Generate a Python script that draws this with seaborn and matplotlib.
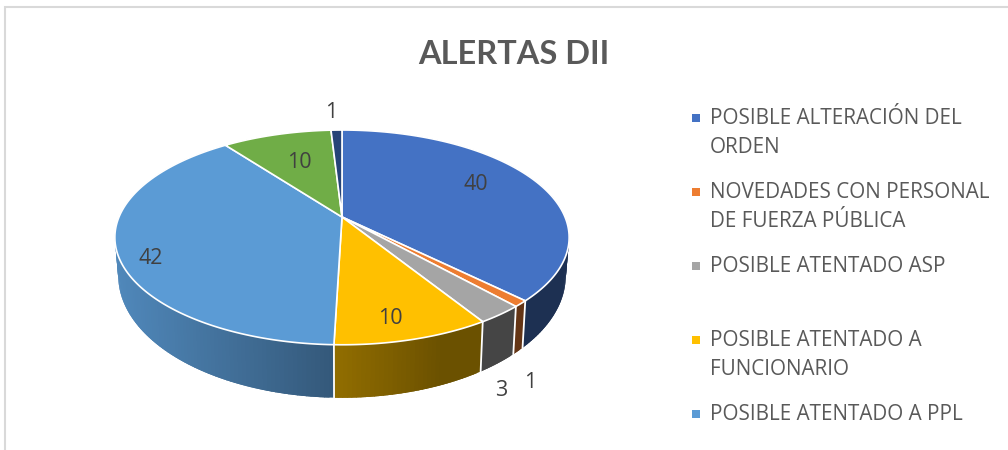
import numpy as np
import pandas as pd
import seaborn as sns
import matplotlib
matplotlib.use("Agg")
import matplotlib.pyplot as plt
from matplotlib.colors import to_rgb

# ---- data ----
VALUES = [40, 1, 3, 10, 42, 10, 1]
COLORS = ["#4472C4", "#ED7D31", "#A5A5A5", "#FFC000", "#5B9BD5", "#70AD47", "#264478"]
LEGEND_LABELS = [
    "POSIBLE ALTERACIÓN DEL\nORDEN",
    "NOVEDADES CON PERSONAL\nDE FUERZA PÚBLICA",
    "POSIBLE ATENTADO ASP",
    "POSIBLE ATENTADO A\nFUNCIONARIO",
    "POSIBLE ATENTADO A PPL",
]
TITLE = "ALERTAS DII"

sns.set_theme(style="white")
palette = sns.color_palette(COLORS)

fig = plt.figure(figsize=(10.08, 4.5), dpi=100)
ax = fig.add_axes([0, 0, 1, 1])
ax.set_xlim(0, 1008)
ax.set_ylim(450, 0)
ax.axis("off")

# frame of the chart area
ax.plot([5, 5, 1008], [450, 7, 7], color="#D9D9D9", lw=1.5, solid_joinstyle="miter", zorder=1)

# ---- projected 3-D pie ----
CX, CY, RX, RY, K = 342.0, 217.0, 223.0, 103.5, 0.19
DEPTH, STRETCH, NARROW = 35.6, 1.136, 0.985


def top_xy(theta):
    u, v = np.sin(theta), np.cos(theta)
    w = 1 + K * v
    return CX + RX * u / w, CY - RY * v / w


def bottom_xy(theta):
    u, v = np.sin(theta), np.cos(theta)
    w = 1 + K * v
    return CX + NARROW * RX * u / w, CY + DEPTH - STRETCH * RY * v / w


def shade(x):
    return max(0.42, min(0.9, 0.57 - 0.0014 * (x - 333)))


edges = np.cumsum([0] + VALUES) / sum(VALUES) * 2 * np.pi

# side wall; each slice is drawn in strips that overlap the next
for i in range(len(VALUES)):
    lo, hi = edges[i], edges[i + 1]
    n = max(3, int((hi - lo) * 60))
    t = np.linspace(lo, hi, n + 1)
    for a, b in zip(t[:-1], t[1:]):
        s = np.linspace(a, min(b + 0.02, hi), 5)
        xt, yt = top_xy(s)
        xb, yb = bottom_xy(s)
        f = shade(xt.mean())
        c = tuple(f * np.array(to_rgb(palette[i])))
        ax.fill(np.r_[xt, xb[::-1]], np.r_[yt, yb[::-1]], facecolor=c, edgecolor="none",
                lw=0, zorder=2 + i * 0.01)

# white separators on the visible wall
for e in edges:
    if np.cos(e) < 0:
        x0, y0 = top_xy(e)
        x1, y1 = bottom_xy(e)
        ax.plot([x0, x1], [y0, y1], color="white", lw=1.3, zorder=3)

# top face
for i in range(len(VALUES)):
    t = np.linspace(edges[i], edges[i + 1], 200)
    x, y = top_xy(t)
    ax.fill(np.r_[CX, x], np.r_[CY, y], facecolor=palette[i], edgecolor="white",
            lw=1.2, joinstyle="round", zorder=4)

# data labels
label_xy = [(476, 182), (530, 381), (501, 388), (390, 317), (151, 257), (299, 160), (331, 110)]
for v, (lx, ly) in zip(VALUES, label_xy):
    ax.text(lx, ly + 2, str(v), ha="center", va="center", fontsize=15.5,
            color="#404040", family="Open Sans", zorder=5)

# title
ax.text(514, 55, TITLE, ha="center", va="center", fontsize=23.4, fontweight="bold",
        color="#595959", family="Lato", zorder=5)

# legend
rows = np.arange(len(LEGEND_LABELS))
legend_df = pd.DataFrame({
    "x": np.full(len(rows), 696.0),
    "y": 118 + 74 * rows,
    "label": LEGEND_LABELS,
})
sns.scatterplot(data=legend_df, x="x", y="y", hue="label", palette=COLORS[:5], marker="s",
                s=28, linewidth=0, legend=False, ax=ax, zorder=5)
ax.set_xlim(0, 1008)
ax.set_ylim(450, 0)
for label, y in zip(LEGEND_LABELS, legend_df["y"]):
    for j, line in enumerate(label.split("\n")):
        ax.text(710, y + 29.5 * j, line, ha="left", va="center", fontsize=14.9,
                color="#595959", family="Open Sans", zorder=5)

fig.savefig("out.png", dpi=100, facecolor="white")
